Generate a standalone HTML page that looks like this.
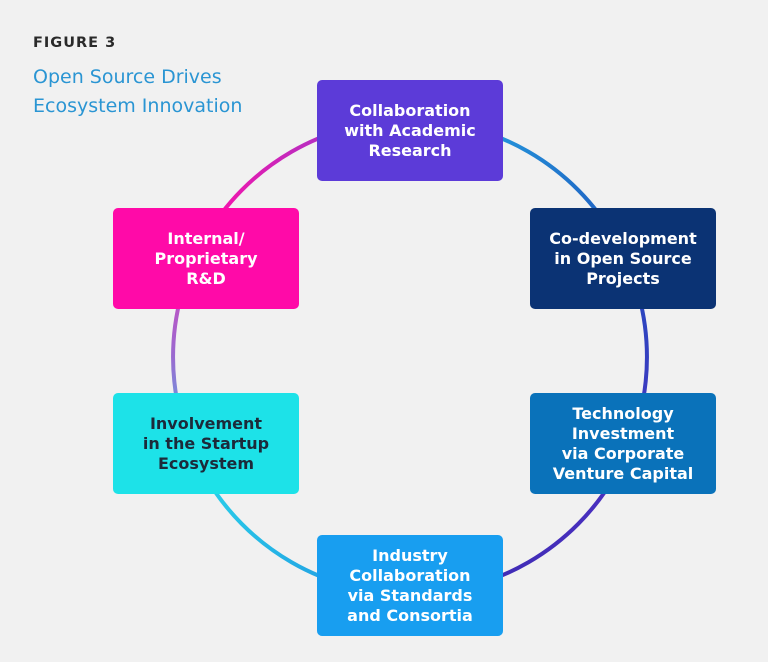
<!DOCTYPE html>
<html><head><meta charset="utf-8"><style>
body{margin:0;width:768px;height:662px;background:#f1f1f1;font-family:"Liberation Sans",sans-serif;position:relative;overflow:hidden}
.fig{position:absolute;left:33px;top:35px;font-size:14.5px;font-weight:bold;letter-spacing:1px;color:#2a2a2a;font-family:"DejaVu Sans",sans-serif}
.title{position:absolute;left:33px;top:63px;font-size:19px;line-height:29px;color:#2a95d3;font-family:"DejaVu Sans",sans-serif}
.b{position:absolute;width:186px;height:101px;border-radius:5px;display:flex;align-items:center;justify-content:center;text-align:center;color:#fff;font-weight:bold;font-size:16px;line-height:20px;font-family:"DejaVu Sans",sans-serif}
</style></head><body>
<svg width="768" height="662" style="position:absolute;left:0;top:0">
<defs>
<linearGradient id="g1" gradientUnits="userSpaceOnUse" x1="410" y1="120" x2="615" y2="238"><stop offset="0" stop-color="#27b0e8"/><stop offset="1" stop-color="#1e5cc0"/></linearGradient>
<linearGradient id="g2" gradientUnits="userSpaceOnUse" x1="615" y1="238" x2="615" y2="475"><stop offset="0" stop-color="#1f4fbf"/><stop offset="1" stop-color="#4a30c0"/></linearGradient>
<linearGradient id="g3" gradientUnits="userSpaceOnUse" x1="615" y1="475" x2="410" y2="594"><stop offset="0" stop-color="#4a30c0"/><stop offset="1" stop-color="#3a2ab0"/></linearGradient>
<linearGradient id="g4" gradientUnits="userSpaceOnUse" x1="410" y1="594" x2="205" y2="475"><stop offset="0" stop-color="#1e8ee0"/><stop offset="1" stop-color="#2ad0ea"/></linearGradient>
<linearGradient id="g5" gradientUnits="userSpaceOnUse" x1="205" y1="475" x2="205" y2="238"><stop offset="0" stop-color="#40c8ea"/><stop offset="0.5" stop-color="#9a6ad0"/><stop offset="1" stop-color="#e03ab8"/></linearGradient>
<linearGradient id="g6" gradientUnits="userSpaceOnUse" x1="205" y1="238" x2="410" y2="120"><stop offset="0" stop-color="#ff10a8"/><stop offset="1" stop-color="#8a40d0"/></linearGradient>
</defs>
<g fill="none" stroke-width="4">
<path d="M410 120 A237 237 0 0 1 615.2 238.5" stroke="url(#g1)"/>
<path d="M615.2 238.5 A237 237 0 0 1 615.2 475.5" stroke="url(#g2)"/>
<path d="M615.2 475.5 A237 237 0 0 1 410 594" stroke="url(#g3)"/>
<path d="M410 594 A237 237 0 0 1 204.8 475.5" stroke="url(#g4)"/>
<path d="M204.8 475.5 A237 237 0 0 1 204.8 238.5" stroke="url(#g5)"/>
<path d="M204.8 238.5 A237 237 0 0 1 410 120" stroke="url(#g6)"/>
</g></svg>
<div class="fig">FIGURE 3</div>
<div class="title">Open Source Drives<br>Ecosystem Innovation</div>
<div class="b" style="left:317px;top:80px;background:#5c3bd8">Collaboration<br>with Academic<br>Research</div>
<div class="b" style="left:530px;top:208px;background:#0b3374">Co-development<br>in Open Source<br>Projects</div>
<div class="b" style="left:530px;top:393px;background:#0a72ba">Technology<br>Investment<br>via Corporate<br>Venture Capital</div>
<div class="b" style="left:317px;top:535px;background:#189ef0">Industry<br>Collaboration<br>via Standards<br>and Consortia</div>
<div class="b" style="left:113px;top:393px;background:#1de2e8;color:#1c2a3a">Involvement<br>in the Startup<br>Ecosystem</div>
<div class="b" style="left:113px;top:208px;background:#ff0aa8">Internal/<br>Proprietary<br>R&amp;D</div>
</body></html>
